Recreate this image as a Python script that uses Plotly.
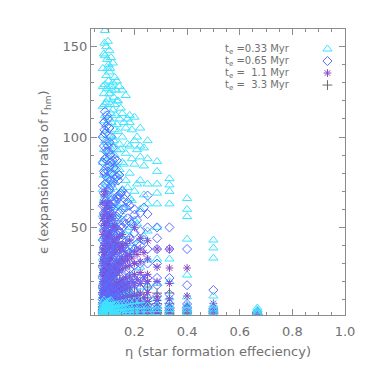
import plotly.graph_objects as go

# eta columns (star formation efficiency)
eta_cols = [0.080, 0.084, 0.088, 0.093, 0.099, 0.105, 0.111, 0.118, 0.125, 0.133, 0.143,
            0.154, 0.167, 0.182, 0.200, 0.222, 0.250, 0.286, 0.333, 0.400, 0.500, 0.667]
# intermediate eta values inside the dense cloud
eta_mid = [0.086, 0.096, 0.102, 0.108, 0.114, 0.121, 0.129, 0.138, 0.148, 0.160,
           0.174, 0.190, 0.210, 0.236]

# te = 0.33 Myr (triangles)
eps_033 = [
    [1.8, 2.6, 3.5, 4.6, 6.2, 8.5, 12, 17, 24, 33, 44, 57, 71, 86, 101, 117, 128, 138],
    [1.9, 2.8, 3.9, 5.1, 7.0, 9.8, 14, 20, 28, 38, 50, 64, 79, 93, 109, 124, 146],
    [2.0, 3.0, 4.1, 5.5, 7.4, 10.5, 15, 22, 31, 42, 55, 68, 83, 98, 112, 129, 145, 159],
    [2.1, 3.1, 4.3, 5.8, 8.0, 11.5, 17, 25, 35, 46, 60, 75, 89, 104, 119, 134, 150],
    [2.2, 3.2, 4.4, 6.0, 8.6, 12.5, 19, 27, 37, 49, 63, 77, 92, 108, 121, 138, 153],
    [2.3, 3.3, 4.5, 6.3, 9.0, 13, 20, 29, 40, 52, 66, 80, 95, 110, 124, 136, 148],
    [2.3, 3.4, 4.7, 6.5, 9.5, 14, 22, 31, 42, 55, 68, 82, 97, 113, 128, 144],
    [2.4, 3.5, 4.8, 6.8, 10, 15, 23, 33, 45, 58, 72, 86, 100, 115, 130, 141],
    [2.4, 3.6, 5.0, 7.0, 10.5, 16, 25, 35, 47, 61, 75, 90, 104, 118, 133],
    [2.5, 3.7, 5.1, 7.3, 11, 17, 26, 37, 50, 63, 78, 93, 107, 120, 131],
    [2.5, 3.8, 5.3, 7.6, 12, 18, 28, 40, 53, 67, 82, 96, 110, 128],
    [2.6, 3.9, 5.5, 8.0, 12.5, 19, 30, 43, 57, 71, 86, 100, 113, 126],
    [2.6, 4.0, 5.7, 8.3, 13, 21, 32, 46, 61, 76, 91, 105, 123],
    [2.7, 4.1, 5.9, 8.7, 14, 23, 35, 50, 66, 80, 95, 108, 112],
    [2.7, 4.2, 6.0, 9.0, 15, 25, 38, 54, 70, 85, 98, 111],
    [2.8, 4.3, 6.2, 9.5, 17, 28, 43, 60, 76, 89, 95, 105],
    [2.8, 4.4, 6.4, 10, 17, 32, 48, 63, 74, 88, 98],
    [2.9, 4.5, 6.5, 10.5, 19, 32.5, 50, 63, 69, 74, 81, 86.5],
    [3.0, 4.6, 6.7, 11, 20, 32.5, 63, 69.9, 73.5, 77],
    [3.0, 4.7, 6.8, 11.5, 23.6, 43.5, 56, 60, 66],
    [3.1, 4.8, 7.0, 12, 33, 38.6, 43],
    [2.2, 3.2, 4.3, 5.4],
]
mid_033 = [
    [27, 45, 66, 88, 118, 152], [30, 52, 74, 97, 127, 143], [33, 56, 79, 101, 131, 140],
    [24, 47, 71, 92, 118, 138], [36, 58, 84, 108, 126], [29, 51, 76, 98, 122],
    [40, 62, 85, 112, 126], [33, 55, 80, 103, 120], [45, 69, 93, 116], [38, 61, 85, 108],
    [48, 72, 96, 110], [41, 65, 88, 104], [52, 74, 93, 100], [45, 68, 84, 94],
]

# te = 0.65 Myr (diamonds)
eps_065 = [
    [1.5, 2.2, 3.0, 4.0, 5.5, 7.5, 10, 13, 17, 22, 28, 35, 43, 52, 62, 73, 86, 100],
    [1.6, 2.3, 3.2, 4.3, 5.8, 8, 11, 14, 19, 24, 31, 39, 48, 58, 69, 81, 95, 108],
    [1.7, 2.4, 3.3, 4.5, 6.1, 8.5, 11.5, 15, 20, 26, 33, 41, 51, 62, 74, 88, 102, 114],
    [1.7, 2.5, 3.4, 4.7, 6.4, 9, 12, 16, 21, 27, 35, 44, 54, 65, 78, 92, 106],
    [1.8, 2.6, 3.5, 4.8, 6.7, 9.3, 12.5, 17, 22, 29, 37, 46, 56, 68, 81, 95, 110],
    [1.8, 2.6, 3.6, 5.0, 7.0, 9.6, 13, 18, 23, 30, 38, 48, 59, 71, 84, 97, 105],
    [1.9, 2.7, 3.7, 5.2, 7.2, 10, 14, 19, 25, 32, 40, 50, 61, 73, 86, 100],
    [1.9, 2.8, 3.8, 5.3, 7.5, 10.5, 14.5, 20, 26, 33, 42, 52, 63, 75, 87, 94],
    [2.0, 2.9, 3.9, 5.5, 7.7, 11, 15, 21, 27, 35, 44, 54, 65, 77, 88],
    [2.0, 2.9, 4.0, 5.6, 8.0, 11.5, 16, 22, 29, 37, 46, 56, 67, 78, 87],
    [2.1, 3.0, 4.1, 5.8, 8.3, 12, 17, 23, 30, 38, 48, 58, 68, 79],
    [2.1, 3.1, 4.2, 6.0, 8.6, 12.5, 18, 24, 32, 40, 50, 60, 70],
    [2.2, 3.2, 4.4, 6.2, 9.0, 13, 19, 26, 34, 42, 52, 61, 68],
    [2.2, 3.3, 4.5, 6.4, 9.5, 14, 20, 27, 36, 44, 53, 62],
    [2.3, 3.4, 4.6, 6.6, 10, 15, 21, 29, 38, 47, 57, 60],
    [2.3, 3.5, 4.8, 6.8, 10.5, 16, 22, 30, 40, 48, 58],
    [2.4, 3.6, 5.0, 7.0, 11, 17, 22, 30, 38, 50, 57.4, 67.6],
    [2.4, 3.7, 5.1, 7.2, 12, 18, 22, 30, 38, 44, 50],
    [2.5, 3.8, 5.2, 7.5, 13, 22, 38, 50],
    [2.5, 3.8, 5.3, 7.6, 18, 38],
    [2.5, 3.6, 5.0, 15.3],
    [1.8, 2.6, 3.3],
]
mid_065 = [
    [8, 16, 26, 39, 57, 80, 104], [9, 18, 30, 44, 63, 87, 112], [10, 20, 33, 49, 70, 92],
    [11, 22, 36, 53, 76, 90], [12, 24, 38, 57, 80], [13, 26, 41, 60, 83], [14, 28, 45, 64, 82],
    [15, 30, 48, 66, 76], [16, 33, 51, 69], [17, 35, 53, 66], [18, 37, 55, 64],
    [19, 39, 52], [20, 41, 54], [21, 43, 61],
]

# te = 1.1 Myr (asterisks)
eps_110 = [
    [1.4, 2.0, 2.8, 3.8, 5.2, 7.0, 9.5, 12.5, 16, 20, 25, 31, 38, 46, 55, 64],
    [1.5, 2.1, 2.9, 4.0, 5.4, 7.3, 10, 13, 17, 22, 27, 33, 40, 48, 57, 68],
    [1.5, 2.2, 3.0, 4.1, 5.6, 7.6, 10.5, 14, 18, 23, 29, 35, 43, 51, 60, 70],
    [1.6, 2.2, 3.1, 4.2, 5.8, 8.0, 11, 14.5, 19, 24, 30, 37, 45, 53, 62],
    [1.6, 2.3, 3.2, 4.4, 6.0, 8.3, 11.5, 15, 20, 25, 31, 38, 46, 55, 64],
    [1.7, 2.4, 3.3, 4.5, 6.2, 8.6, 12, 16, 21, 26, 32, 39, 47, 56, 61],
    [1.7, 2.4, 3.4, 4.6, 6.4, 9, 12.5, 17, 22, 27, 33, 40, 48, 57],
    [1.8, 2.5, 3.5, 4.8, 6.6, 9.3, 13, 17.5, 23, 28, 35, 42, 50, 55],
    [1.8, 2.6, 3.6, 4.9, 6.8, 9.6, 13.5, 18, 24, 29, 36, 43, 51],
    [1.9, 2.7, 3.7, 5.0, 7.0, 10, 14, 19, 25, 31, 37, 44, 49],
    [1.9, 2.7, 3.8, 5.2, 7.2, 10.5, 15, 20, 26, 32, 38, 45],
    [2.0, 2.8, 3.9, 5.3, 7.5, 11, 15.5, 21, 27, 33, 40, 46],
    [2.0, 2.9, 4.0, 5.5, 7.8, 11.5, 16, 22, 28, 34, 41],
    [2.1, 3.0, 4.1, 5.7, 8.0, 12, 17, 23, 29, 35, 43],
    [2.1, 3.1, 4.2, 5.9, 8.3, 12.5, 18, 24, 30, 37, 50],
    [2.2, 3.2, 4.4, 6.1, 8.7, 13, 19, 25, 31, 38, 44],
    [2.2, 3.3, 4.5, 6.3, 9, 14, 20, 24, 32.5, 42.6],
    [2.3, 3.4, 4.6, 6.5, 9.5, 11.6, 20, 28, 38],
    [2.3, 3.4, 4.7, 6.6, 10.5, 19, 27.5, 38],
    [2.4, 3.5, 4.8, 6.8, 12, 27.5],
    [2.4, 3.5, 4.8, 8],
    [1.7, 2.4],
]
mid_110 = [
    [4.5, 9, 15, 24, 36, 52], [5, 10, 17, 27, 41, 58], [5.5, 11, 19, 30, 44, 52],
    [6, 12, 21, 33, 46], [6.5, 13, 23, 36, 44], [7, 14, 25, 38], [7.5, 15, 27, 40],
    [8, 16, 29, 41], [8.5, 17, 30, 39], [9, 18, 31, 37], [9.5, 19, 32], [10, 20, 33],
    [10.5, 21, 35], [11, 22, 36],
]

# te = 3.3 Myr (plus)
eps_330 = [
    [1.3, 1.8, 2.5, 3.4, 4.6, 6.2, 8.3, 11, 14, 18, 23, 29, 36],
    [1.3, 1.9, 2.6, 3.5, 4.8, 6.5, 8.7, 11.5, 15, 19, 24, 30],
    [1.4, 1.9, 2.7, 3.6, 5.0, 6.8, 9.1, 12, 15.5, 20, 25, 32],
    [1.4, 2.0, 2.8, 3.7, 5.1, 7.0, 9.4, 12.5, 16, 21, 27],
    [1.5, 2.1, 2.9, 3.9, 5.3, 7.2, 9.8, 13, 17, 22, 28],
    [1.5, 2.1, 2.9, 4.0, 5.5, 7.5, 10, 13.5, 18, 23, 29],
    [1.5, 2.2, 3.0, 4.1, 5.6, 7.7, 10.5, 14, 18.5, 24, 27.5],
    [1.6, 2.2, 3.1, 4.2, 5.8, 8.0, 11, 14.5, 19, 25],
    [1.6, 2.3, 3.2, 4.3, 6.0, 8.2, 11.5, 15, 20, 25],
    [1.7, 2.4, 3.3, 4.4, 6.1, 8.5, 12, 16.5, 20, 23.5],
    [1.7, 2.4, 3.3, 4.5, 6.3, 8.8, 12.5, 16, 19.8],
    [1.8, 2.5, 3.4, 4.6, 6.5, 9.0, 13, 13.7, 17],
    [1.8, 2.5, 3.5, 4.8, 6.7, 9.4, 13.5, 16.5],
    [1.9, 2.6, 3.6, 4.9, 6.9, 9.7, 12, 14],
    [1.9, 2.7, 3.7, 5.0, 7.1, 10, 14],
    [2.0, 2.8, 3.8, 5.2, 7.3, 10.5, 13.7],
    [2.0, 2.8, 3.9, 5.3, 7.5, 11, 17],
    [2.1, 2.9, 4.0, 5.5, 7.8, 13.6],
    [2.1, 3.0, 4.1, 5.6, 8, 13.7],
    [2.2, 3.1, 4.2, 5.8],
    [2.2, 3.1, 4.3],
    [1.6, 2.2],
]
mid_330 = [
    [3, 6, 11, 19, 28], [3.3, 7, 12, 21, 33], [3.6, 7.5, 13, 22, 30], [3.9, 8, 14, 23],
    [4.2, 8.5, 15, 22], [4.5, 9, 16, 26], [4.8, 9.5, 17, 21], [5.1, 10, 18],
    [5.4, 10.5, 15], [5.7, 11, 19], [6, 11.5, 15], [6.3, 12], [6.6, 12.5], [6.9, 11],
]

legend_labels = ["t<sub>e</sub> =0.33 Myr", "t<sub>e</sub> =0.65 Myr",
                 "t<sub>e</sub> =\u00a0\u00a01.1 Myr", "t<sub>e</sub> =\u00a0\u00a03.3 Myr"]
x_ticks = [0.2, 0.4, 0.6, 0.8, 1.0]
y_ticks = [50, 100, 150]

STYLE_033 = ("triangle-up-open", "#3fe3ff", 8)
STYLE_065 = ("diamond-open", "#5b6bff", 7)
STYLE_110 = ("asterisk-open", "#8a45c8", 6.5)
STYLE_330 = ("cross-thin-open", "#6a6a6a", 7)


def flatten(vals, mids, keep):
    xs, ys = [], []
    for eta, col_vals in list(zip(eta_cols, vals)) + list(zip(eta_mid, mids)):
        for v in col_vals:
            if keep(v):
                xs.append(eta)
                ys.append(v)
    return xs, ys


def add_markers(fig, xs, ys, style):
    sym, col, sz = style
    fig.add_trace(go.Scatter(x=xs, y=ys, mode="markers", showlegend=False,
                             marker=dict(symbol=sym, size=sz, color=col,
                                         line=dict(width=1, color=col))))


fig = go.Figure()
# plus and upper triangles behind, then diamonds and asterisks, then low triangles on top
add_markers(fig, *flatten(eps_330, mid_330, lambda v: True), STYLE_330)
add_markers(fig, *flatten(eps_033, mid_033, lambda v: v >= 10), STYLE_033)
add_markers(fig, *flatten(eps_110, mid_110, lambda v: True), STYLE_110)
add_markers(fig, *flatten(eps_065, mid_065, lambda v: True), STYLE_065)
add_markers(fig, *flatten(eps_033, mid_033, lambda v: v < 10), STYLE_033)

TXT = "#707070"
AX = "#8c8c8c"
FONT = "DejaVu Sans"

# legend: text then symbol
leg_y = [0.930, 0.888, 0.846, 0.804]
for style, lab, yy in zip([STYLE_033, STYLE_065, STYLE_110, STYLE_330], legend_labels, leg_y):
    sym, col, sz = style
    fig.add_annotation(x=0.79, y=yy, xref="paper", yref="paper", text=lab,
                       showarrow=False, xanchor="right", yanchor="middle",
                       font=dict(family=FONT, size=10, color=TXT))
    fig.add_trace(go.Scatter(x=[0.931], y=[yy], xaxis="x2", yaxis="y2", mode="markers",
                             showlegend=False,
                             marker=dict(symbol=sym, size=sz, color=col,
                                         line=dict(width=1, color=col))))

# y-axis title as rotated annotation
fig.add_annotation(x=-0.185, y=0.5, xref="paper", yref="paper",
                   text="ϵ (expansion ratio of r<sub>hm</sub>)", textangle=-90,
                   showarrow=False, xanchor="center", yanchor="middle",
                   font=dict(family=FONT, size=13, color=TXT))

fig.update_layout(
    width=366, height=366,
    margin=dict(l=83, r=28.5, t=21, b=59),
    paper_bgcolor="white", plot_bgcolor="white",
    font=dict(family=FONT, size=13, color=TXT),
    xaxis=dict(range=[0.035, 1.0], tickvals=x_ticks, ticktext=[f"{v:.1f}" for v in x_ticks],
               ticks="inside", ticklen=6, tickwidth=1, tickcolor=AX,
               showline=True, linecolor=AX, linewidth=1, mirror="ticks",
               showgrid=False, zeroline=False, automargin=False, ticklabelstandoff=4,
               minor=dict(dtick=0.05, tick0=0, ticks="inside", ticklen=3, tickcolor=AX, showgrid=False),
               tickfont=dict(size=13, color=TXT),
               title=dict(text="η (star formation effeciency)", font=dict(size=13, color=TXT), standoff=9)),
    yaxis=dict(range=[1.5, 159.8], tickvals=y_ticks,
               ticks="inside", ticklen=6, tickwidth=1, tickcolor=AX,
               showline=True, linecolor=AX, linewidth=1, mirror="ticks",
               showgrid=False, zeroline=False, automargin=False,
               minor=dict(dtick=10, tick0=0, ticks="inside", ticklen=3, tickcolor=AX, showgrid=False),
               tickfont=dict(size=13, color=TXT)),
    xaxis2=dict(range=[0, 1], overlaying="x", visible=False),
    yaxis2=dict(range=[0, 1], overlaying="y", visible=False),
)

fig.write_html("out.html")
